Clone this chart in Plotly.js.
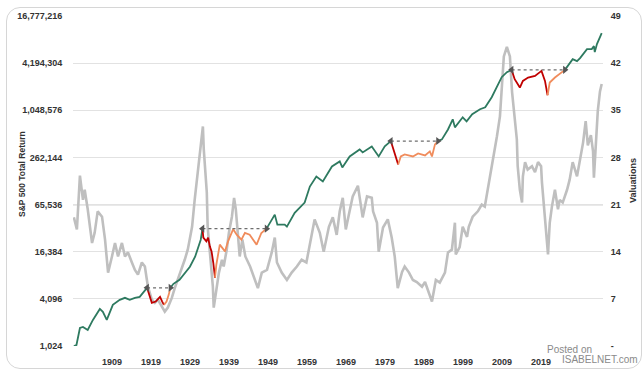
<!DOCTYPE html>
<html>
<head>
<meta charset="utf-8">
<script src="https://cdn.plot.ly/plotly-3.0.1.min.js"></script>
<style>
  html, body { margin: 0; padding: 0; background: #ffffff; }
  #wrap { position: relative; width: 644px; height: 369px; overflow: hidden; }
  #chart { width: 644px; height: 369px; }
  #frame { position: absolute; left: 6px; top: 7px; width: 634px; height: 360px;
           border: 1px solid #d6d6d6; border-radius: 14px; pointer-events: none; }
</style>
</head>
<body>
<div id="wrap">
  <div id="chart"></div>
  <div id="frame"></div>
</div>
<script>
// ---------------- DATA ----------------
// S&P 500 total return index (left, log axis)
const trYears = [1900.0,1900.6,1901.4,1902.1,1903.2,1904.4,1906.0,1906.7,1907.6,1909.0,1910.6,1911.8,1912.9,1914.1,1915.2,
  1916.9,1918.0,1918.9,1919.9,1920.4,1920.8,1921.4,1921.9,1922.3,
  1923.0,1924.4,1925.6,1926.8,1928.0,1929.0,1929.3,
  1929.7,1929.9,1930.6,1931.0,1931.4,1931.8,1932.2,1932.6,
  1932.9,1933.7,1934.9,1935.6,1936.8,1937.6,1938.7,1939.5,1940.6,1942.2,1943.3,1944.5,
  1946.4,1947.0,1948.7,1949.2,1951.0,1953.3,1954.5,1956.0,1957.5,1959.6,1961.4,1962.0,1963.7,1966.0,1966.7,1968.8,1970.4,1971.8,
  1973.2,1973.7,1974.3,1974.9,
  1975.5,1976.4,1978.3,1979.5,1981.1,1982.2,1982.7,1983.4,1984.1,
  1985.0,1986.4,1987.5,1988.0,1989.8,1990.7,1992.0,1993.8,1995.0,1996.5,1997.7,1998.8,2000.0,
  2001.1,2001.8,2003.0,2003.7,2004.9,2006.5,2008.0,2008.8,2009.4,
  2009.9,2011.1,2012.2,2013.4,
  2015.2,2016.2,2016.9,2018.5,2019.6,2020.1,2020.3,2020.8,2021.9];
const trValues = [1024,1054,1741,1794,1642,2204,3049,2792,2204,3433,3976,4220,3976,4220,4346,
  5665,3641,3782,4346,3782,3433,3782,4608,5665,
  6375,7176,8817,10530,14136,20164,23350,
  32290,24770,22200,24770,19180,16530,11845,7612,
  11170,20164,16530,22200,31800,27050,23350,28450,27050,20164,28450,32290,
  48790,36340,36340,34240,51330,69530,111400,149200,129200,201000,233000,195100,270000,331900,303800,362600,270000,362600,
  424200,349100,286500,213200,
  270000,286500,270000,294900,278100,312800,270000,384600,424200,
  445700,596600,804200,634400,853000,758100,932200,1080000,1146000,1538000,2067000,2775000,3217000,
  3442000,2617000,2048000,2488000,2750000,2885000,3341000,2488000,1632000,
  2370000,2750000,3032000,3442000,
  4719000,4450000,4862000,6340000,6340000,6924000,5801000,7348000,10170000];

// Drawdown episodes: previous peak, lowest point, recovery of the peak level
const peakYears     = [1916.9, 1929.7, 1973.2, 2001.1];
const troughYears   = [1920.8, 1932.6, 1974.9, 2009.4];
const recoveryYears = [1922.3, 1944.5, 1984.1, 2013.4];

// Valuations (right axis)
const capeYears = [1900.0,1900.7,1901.4,1902.1,1902.5,1903.2,1904.2,1904.8,1905.5,1906.5,1907.2,1907.9,1908.8,1909.5,1910.2,
  1911.1,1911.8,1912.5,1913.4,1914.1,1914.8,1915.7,1916.4,1917.1,1918.0,1918.7,1919.4,1920.3,1921.0,1921.7,1922.6,1923.3,
  1924.0,1924.9,1925.6,1926.3,1927.3,1927.9,1928.6,1929.3,1929.8,1930.0,1930.3,1930.7,1930.9,1931.6,1932.1,1932.3,1933.0,
  1933.5,1934.2,1934.6,1935.3,1935.8,1936.5,1937.0,1937.4,1937.9,1938.3,1938.9,1939.6,1940.7,1941.8,1942.5,1943.4,1944.6,
  1945.7,1946.4,1946.9,1948.0,1949.2,1950.3,1951.5,1952.6,1953.7,1954.7,1955.6,1956.8,1957.7,1958.9,1959.8,1960.7,1961.4,
  1962.1,1962.8,1963.5,1964.4,1965.6,1966.7,1967.7,1968.8,1969.1,1970.0,1970.4,1971.4,1972.5,1973.4,1974.1,1974.8,1975.8,
  1976.4,1977.4,1978.3,1979.2,1980.4,1981.1,1981.8,1982.7,1983.6,1984.5,1985.7,1986.4,1987.3,1988.0,1988.2,1989.1,1989.8,
  1990.8,1991.2,1992.1,1993.3,1994.2,1994.9,1996.1,1996.8,1997.7,1998.4,1998.8,1999.3,2000.0,2000.7,2001.2,2001.8,2002.3,
  2002.5,2003.0,2003.5,2003.7,2004.2,2004.8,2005.8,2006.5,2007.2,2007.9,2008.1,2008.5,2009.0,2009.5,2009.9,2010.4,2011.1,
  2011.8,2012.2,2012.9,2013.9,2014.5,2015.2,2016.2,2016.9,2017.6,2018.2,2018.7,2019.4,2019.9,2020.1,2020.6,2021.0,2021.5,2021.9];
const capeValues = [19.1,17.3,25.3,21.7,23.2,20.3,15.3,16.8,20.0,19.2,15.8,10.9,13.3,15.3,13.3,
  15.3,13.3,13.9,12.4,11.3,10.6,12.4,11.8,8.8,6.9,6.4,6.9,5.8,5.1,5.7,7.1,8.6,
  9.8,11.3,12.8,14.3,17.7,21.7,25.8,29.2,32.6,29.2,26.7,22.8,17.7,12.8,8.8,5.7,8.8,
  10.9,12.8,11.8,14.3,16.8,19.2,22.0,20.3,15.8,13.3,15.8,13.3,11.8,9.8,8.6,10.9,11.3,
  13.9,16.1,12.4,10.9,9.8,10.9,11.8,12.8,12.4,15.8,18.8,16.8,14.0,17.7,19.1,16.5,20.0,
  22.0,17.3,19.5,22.2,23.8,19.1,22.2,22.0,20.0,18.3,14.0,17.6,18.8,16.1,13.3,8.6,11.0,
  11.8,10.9,9.8,9.5,8.8,9.5,8.3,6.6,9.8,9.4,10.9,13.9,14.3,18.3,13.6,14.7,17.7,
  16.2,17.7,19.2,20.0,21.0,20.7,25.0,27.7,31.1,34.1,38.6,43.0,44.4,43.0,37.7,34.1,30.7,
  26.7,23.2,21.3,25.2,27.3,26.2,26.7,25.8,27.3,26.7,24.3,21.3,18.3,13.6,18.3,20.7,23.2,
  20.3,21.7,21.3,23.2,24.7,27.3,25.2,27.7,30.2,33.4,29.8,31.3,28.9,25.0,31.3,34.9,37.8,38.9];
const referenceLevel = 21;

// Axis labels
const xTickLabels = ['1909','1919','1929','1939','1949','1959','1969','1979','1989','1999','2009','2019'];
const leftTickValues = [1024, 4096, 16384, 65536, 262144, 1048576, 4194304, 16777216];
const rightTickValues = [0, 7, 14, 21, 28, 35, 42, 49];
const leftTitle = 'S&P 500 Total Return';
const rightTitle = 'Valuations';

// ---------------- BUILD ----------------
const inAny = (yr, a, b, strict) => peakYears.some((_, k) => {
  const lo = a[k], hi = b[k];
  return strict ? (yr > lo && yr < hi) : (yr >= lo && yr <= hi);
});
const greenY  = trValues.map((v, i) => inAny(trYears[i], peakYears, recoveryYears, true) ? null : v);
const redY    = trValues.map((v, i) => inAny(trYears[i], peakYears, troughYears, false) ? v : null);
const orangeY = trValues.map((v, i) => inAny(trYears[i], troughYears, recoveryYears, false) ? v : null);

const FONT = 'Liberation Sans, Arial, sans-serif';
const tickFont = {family: FONT, size: 9, color: '#333333', weight: 'bold'};
const titleFont = {family: FONT, size: 8.5, color: '#333333', weight: 'bold'};

const traces = [];
traces.push({x: capeYears, y: capeValues, yaxis: 'y', type: 'scatter', mode: 'lines',
  line: {color: '#bfbfbf', width: 2.6}, hoverinfo: 'skip', name: 'Valuations'});
traces.push({x: trYears, y: greenY, yaxis: 'y2', type: 'scatter', mode: 'lines', connectgaps: false,
  line: {color: '#2e7a60', width: 1.8}, name: 'S&P 500 Total Return'});
traces.push({x: trYears, y: redY, yaxis: 'y2', type: 'scatter', mode: 'lines', connectgaps: false,
  line: {color: '#c00000', width: 1.8}, name: 'Drawdown'});
traces.push({x: trYears, y: orangeY, yaxis: 'y2', type: 'scatter', mode: 'lines', connectgaps: false,
  line: {color: '#f08c5c', width: 1.8}, name: 'Recovery'});
peakYears.forEach((p, k) => {
  const lvl = trValues[trYears.indexOf(p)];
  traces.push({x: [p, recoveryYears[k]], y: [lvl, lvl], yaxis: 'y2', type: 'scatter', mode: 'lines+markers',
    line: {color: '#6e6e6e', width: 1.3, dash: 'dot'},
    marker: {symbol: ['triangle-left', 'triangle-right'], size: 7, color: '#555555'},
    hoverinfo: 'skip'});
});

// plot area pixel geometry helpers for text placement
const L = 73, R = 603, T = 16, B = 346;
const px = v => (v - L) / (R - L);
const py = v => (B - v) / (B - T);

const xStart = 1899.8, xEnd = 2022.2;
const tickStart = 1908.8, tickStep = 9.01;

const layout = {
  width: 644, height: 369,
  margin: {l: L, r: 644 - R, t: T, b: 369 - B},
  paper_bgcolor: '#ffffff', plot_bgcolor: '#ffffff',
  showlegend: false,
  font: {family: FONT},
  xaxis: {
    range: [xStart, xEnd], showgrid: false, zeroline: false, showline: false,
    tickvals: xTickLabels.map((_, i) => tickStart + i * tickStep),
    ticktext: xTickLabels, ticks: 'outside', ticklen: 7, tickcolor: 'rgba(0,0,0,0)',
    tickfont: tickFont
  },
  yaxis: {
    side: 'right', range: [0, 49], tickvals: rightTickValues,
    ticktext: rightTickValues.map(v => v === 0 ? '-' : String(v)),
    showgrid: true, gridcolor: '#e2e2e2', gridwidth: 1, zeroline: false, showline: false,
    ticks: 'outside', ticklen: 5, tickcolor: 'rgba(0,0,0,0)', tickfont: tickFont
  },
  yaxis2: {
    overlaying: 'y', side: 'left', type: 'log',
    range: [Math.log10(leftTickValues[0]), Math.log10(leftTickValues[leftTickValues.length - 1])],
    tickvals: leftTickValues, ticktext: leftTickValues.map(v => v.toLocaleString('en-US')),
    showgrid: false, zeroline: false, showline: false,
    ticks: 'outside', ticklen: 8, tickcolor: 'rgba(0,0,0,0)', tickfont: tickFont
  },
  shapes: [
    {type: 'line', xref: 'paper', x0: 0, x1: 1, yref: 'y', y0: referenceLevel, y1: referenceLevel,
     line: {color: '#a9a9a9', width: 1.2}, layer: 'below'}
  ],
  annotations: [
    {text: leftTitle, xref: 'paper', yref: 'paper', x: px(22), y: py(174), textangle: -90,
     xanchor: 'center', yanchor: 'middle', showarrow: false, font: titleFont},
    {text: rightTitle, xref: 'paper', yref: 'paper', x: px(633), y: py(181), textangle: -90,
     xanchor: 'center', yanchor: 'middle', showarrow: false, font: {...titleFont, size: 9}},
    {text: 'Posted on', xref: 'paper', yref: 'paper', x: px(545), y: py(349), xanchor: 'left', yanchor: 'middle',
     showarrow: false, font: {family: FONT, size: 10, color: '#8a8a8a'}},
    {text: 'ISABELNET.com', xref: 'paper', yref: 'paper', x: px(560), y: py(359), xanchor: 'left', yanchor: 'middle',
     showarrow: false, font: {family: FONT, size: 10, color: '#8a8a8a'}}
  ]
};

Plotly.newPlot('chart', traces, layout, {displayModeBar: false, staticPlot: true});
</script>
</body>
</html>
